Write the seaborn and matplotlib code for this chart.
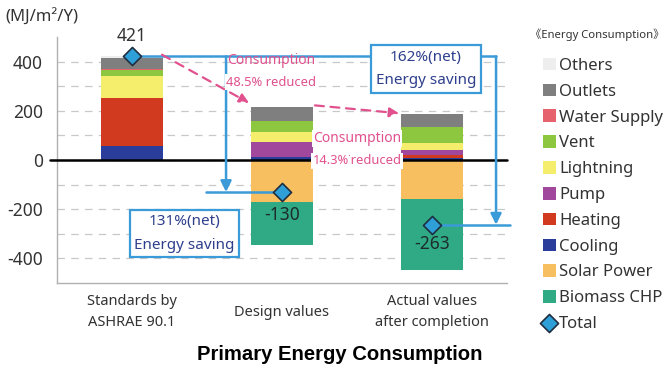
import numpy as np
import pandas as pd
import matplotlib
matplotlib.use("Agg")
import matplotlib.pyplot as plt
import seaborn as sns

# ---------------- data ----------------
categories = ["Standards by\nASHRAE 90.1", "Design values", "Actual values\nafter completion"]
# positive (consumption) layers, bottom -> top
cooling      = [58, 14, 8]
heating      = [195, 0, 13]
pump         = [0, 60, 20]
lightning    = [88, 38, 27]
vent         = [24, 46, 65]
water_supply = [6, 0, 0]
outlets      = [45, 59, 53]
others       = [5, 0, 0]
# negative (generation) layers, top -> bottom
solar_power  = [0, -170, -160]
biomass_chp  = [0, -177, -289]
totals       = [421, -130, -263]
total_labels = ["421", "-130", "-263"]

pos_layers = [("Cooling", cooling, "#2b3d9b"),
              ("Heating", heating, "#d13a1f"),
              ("Pump", pump, "#a2489c"),
              ("Lightning", lightning, "#f4ee6c"),
              ("Vent", vent, "#8dc63f"),
              ("Water Supply", water_supply, "#e6636e"),
              ("Outlets", outlets, "#7f7f7f"),
              ("Others", others, "#eeeeee")]
neg_layers = [("Solar Power", solar_power, "#f7bf5f"),
              ("Biomass CHP", biomass_chp, "#2faa85")]
legend_order = ["Others", "Outlets", "Water Supply", "Vent", "Lightning", "Pump",
                "Heating", "Cooling", "Solar Power", "Biomass CHP", "Total"]

# ---------------- style ----------------
sns.set_theme(style="white")
plt.rcParams["font.family"] = ["Noto Sans", "Noto Sans CJK JP", "DejaVu Sans"]
txt = "#333333"
blue = "#3b9ad8"
navy = "#2e3f8c"
pink = "#e0518e"

fig = plt.figure(figsize=(6.69, 3.69), dpi=100)
ax = fig.add_axes([57/669, 1-283/369, 450/669, 246/369])

bw = 0.41
bottom = np.zeros(3)
for name, vals, col in pos_layers:
    sns.barplot(x=categories, y=vals, bottom=bottom, color=col, width=bw,
                errorbar=None, label=name, ax=ax, saturation=1, linewidth=0,
                zorder=3)
    bottom = bottom + np.array(vals)
bottom = np.zeros(3)
for name, vals, col in neg_layers:
    sns.barplot(x=categories, y=vals, bottom=bottom, color=col, width=bw,
                errorbar=None, label=name, ax=ax, saturation=1, linewidth=0,
                zorder=3)
    bottom = bottom + np.array(vals)

sns.scatterplot(x=np.arange(3), y=totals, marker="D", s=85, color="#2f9fd8",
                edgecolor="#1f2f40", linewidth=1.2, zorder=6, ax=ax, label="Total")

ax.set_ylim(-500, 500)
ax.set_xlim(-0.5, 2.5)
ax.set_yticks(np.arange(-400, 401, 100))
ax.set_yticklabels([str(v) if v % 200 == 0 else "" for v in range(-400, 401, 100)])
ax.yaxis.grid(True, linestyle=(0, (6, 5)), color="#c8c8c8", lw=0.9, zorder=0)
ax.xaxis.grid(False)
ax.tick_params(axis="y", length=0, labelsize=12.5, colors=txt, pad=10)
ax.tick_params(axis="x", length=0, labelsize=10.5, colors=txt, pad=21)
ax.set_xlabel("")
for s in ["top", "right"]:
    ax.spines[s].set_visible(False)
for s in ["left", "bottom"]:
    ax.spines[s].set_color("#b0b0b0")
    ax.spines[s].set_linewidth(1.0)
ax.axhline(0, color="black", lw=1.8, zorder=4, xmin=-0.016, clip_on=False)

# total labels
ax.text(0, 468, total_labels[0], ha="center", va="bottom", fontsize=12.5, color=txt, zorder=7)
ax.text(1, -188, total_labels[1], ha="center", va="top", fontsize=12.5, color="#1d2b2b", zorder=7)
ax.text(2, -305, total_labels[2], ha="center", va="top", fontsize=12.5, color="#1d2b2b", zorder=7)

# blue connector lines
ax.plot([0, 2.427], [421, 421], color=blue, lw=1.8, zorder=5, clip_on=False)
ax.plot([0.493, 1], [-130, -130], color=blue, lw=1.8, zorder=5)
ax.plot([2, 2.52], [-263, -263], color=blue, lw=1.8, zorder=5, clip_on=False)
for xv, yv in [(0.627, -130), (2.427, -263)]:
    ax.annotate("", xy=(xv, yv), xytext=(xv, 421),
                arrowprops=dict(arrowstyle="-|>", color=blue, lw=1.8,
                                mutation_scale=16, shrinkA=0, shrinkB=0),
                zorder=5, annotation_clip=False)

# blue boxes
box = dict(boxstyle="square,pad=0.3", fc="white", ec=blue, lw=1.6)
ax.text(1.96, 370, "162%(net)\nEnergy saving", ha="center", va="center",
        fontsize=11, color=navy, bbox=box, zorder=8, linespacing=1.75)
ax.text(0.35, -299, "131%(net)\nEnergy saving", ha="center", va="center",
        fontsize=11, color=navy, bbox=box, zorder=8, linespacing=1.75)

# pink dashed arrows
for (x0, y0), (x1, y1) in [((0.2, 428), (0.78, 232)), ((1.22, 222), (1.78, 190))]:
    ax.annotate("", xy=(x1, y1), xytext=(x0, y0),
                arrowprops=dict(arrowstyle="-|>", color=pink, lw=1.6,
                                linestyle=(0, (4, 3)), mutation_scale=14,
                                shrinkA=0, shrinkB=0),
                zorder=6)
pbox = dict(boxstyle="square,pad=0.1", fc="white", ec="none")
ax.text(0.93, 404, "Consumption", ha="center", va="center", fontsize=10, color=pink, zorder=7)
ax.text(0.93, 316, "48.5% reduced", ha="center", va="center", fontsize=9.3, color=pink,
        bbox=pbox, zorder=7)
ax.text(1.5, 87, "Consumption", ha="center", va="center", fontsize=10, color=pink,
        bbox=pbox, zorder=7)
ax.text(1.5, -4, "14.3%˙reduced", ha="center", va="center", fontsize=9.3, color=pink,
        bbox=pbox, zorder=7)

# unit label and title
fig.text(5/669, 1-17/369, "(MJ/m²/Y)", ha="left", va="center", fontsize=12, color=txt)
fig.text(340/669, 1-355/369, "Primary Energy Consumption", ha="center", va="center",
         fontsize=14.6, fontweight="bold", family="Liberation Sans", color="black")

# legend
fig.text(530/669, 1-35/369, "《Energy Consumption》", ha="left", va="center",
         fontsize=8.1, color=txt)
h, l = ax.get_legend_handles_labels()
hd = dict(zip(l, h))
handles = [hd[n] for n in legend_order]
leg = ax.legend(handles, legend_order, loc="upper left",
                bbox_to_anchor=(536/669, 1-51/369), bbox_transform=fig.transFigure,
                frameon=False, fontsize=12, handlelength=0.8, handleheight=0.8,
                handletextpad=0.2, labelspacing=0.58, borderaxespad=0)
for t in leg.get_texts():
    t.set_color(txt)

# vertically centre the category labels (one- and two-line)
for lab in ax.get_xticklabels():
    lab.set_verticalalignment("center")
    lab.set_linespacing(1.5)

fig.savefig("out.png", dpi=100)
